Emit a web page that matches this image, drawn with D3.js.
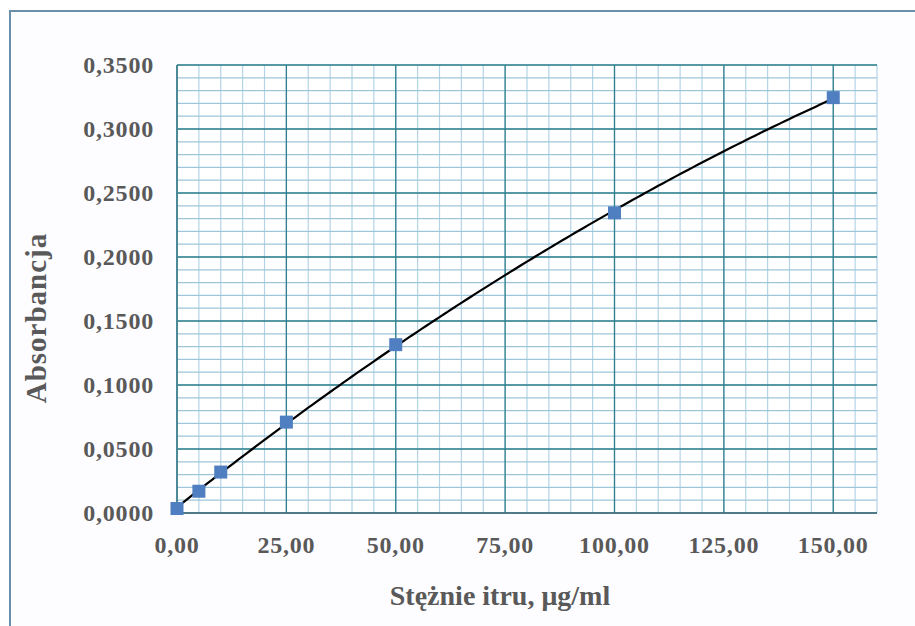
<!DOCTYPE html>
<html>
<head>
<meta charset="utf-8">
<script src="https://cdn.jsdelivr.net/npm/d3@7"></script>
<style>
  body { margin: 0; background: #fff; }
  text { font-family: "Liberation Serif", "Times New Roman", serif; font-weight: bold; fill: #595959; }
</style>
</head>
<body>
<svg id="vimage" width="915" height="626"></svg>
<script>
// stężenie itru (ug/ml) vs absorbancja
var conc = [0, 5, 10, 25, 50, 100, 150];
var absorb = [0.0035, 0.0170, 0.0320, 0.0710, 0.1315, 0.2345, 0.3245];
var xTicks = [0, 25, 50, 75, 100, 125, 150];
var yTicks = [0, 0.05, 0.10, 0.15, 0.20, 0.25, 0.30, 0.35];

var svg = d3.select("#vimage");

// outer frame (only left/top edges visible in the picture)
svg.append("rect")
  .attr("x", 10).attr("y", 11)
  .attr("width", 1000).attr("height", 1000)
  .attr("fill", "#fdfdff")
  .attr("stroke", "#6b8eaa")
  .attr("stroke-width", 2);

var pLeft = 177, pRight = 877, pTop = 65, pBottom = 513;

var x = d3.scaleLinear().domain([0, 160]).range([pLeft, pRight]);
var y = d3.scaleLinear().domain([0, 0.35]).range([pBottom, pTop]);

svg.append("rect")
  .attr("x", pLeft).attr("y", pTop)
  .attr("width", pRight - pLeft).attr("height", pBottom - pTop)
  .attr("fill", "#fff");

// minor grid
var g = svg.append("g");
g.selectAll(".xminor")
  .data(d3.range(5, 161, 5))
  .enter().append("line")
  .attr("x1", function(d){ return x(d); })
  .attr("x2", function(d){ return x(d); })
  .attr("y1", pTop).attr("y2", pBottom)
  .attr("stroke", "#b3d4e6").attr("stroke-width", 1.2);

g.selectAll(".yminor")
  .data(d3.range(1, 36).map(function(i){ return i / 100; }))
  .enter().append("line")
  .attr("y1", function(d){ return y(d); })
  .attr("y2", function(d){ return y(d); })
  .attr("x1", pLeft).attr("x2", pRight)
  .attr("stroke", "#9ec6da").attr("stroke-width", 1.2);

// major grid
g.selectAll(".xmajor")
  .data(xTicks)
  .enter().append("line")
  .attr("x1", function(d){ return x(d); })
  .attr("x2", function(d){ return x(d); })
  .attr("y1", pTop).attr("y2", pBottom)
  .attr("stroke", "#2f7f8e").attr("stroke-width", 1.3);

g.selectAll(".ymajor")
  .data(yTicks)
  .enter().append("line")
  .attr("y1", function(d){ return y(d); })
  .attr("y2", function(d){ return y(d); })
  .attr("x1", pLeft).attr("x2", pRight)
  .attr("stroke", "#2f7f8e").attr("stroke-width", 1.3);

// axes lines
svg.append("line").attr("x1", pLeft).attr("x2", pLeft).attr("y1", pTop).attr("y2", pBottom)
  .attr("stroke", "#3f7f8e").attr("stroke-width", 1.5);
svg.append("line").attr("x1", pLeft).attr("x2", pRight).attr("y1", pBottom).attr("y2", pBottom)
  .attr("stroke", "#4a6e7a").attr("stroke-width", 1.5);

// tick labels
var fmtY = function(d){ return d3.format(".4f")(d).replace(".", ","); };
var fmtX = function(d){ return d3.format(".2f")(d).replace(".", ","); };

svg.selectAll(".ylab")
  .data(yTicks)
  .enter().append("text")
  .attr("x", 154)
  .attr("y", function(d){ return y(d) + 8; })
  .attr("text-anchor", "end")
  .style("font-size", "24px")
  .style("letter-spacing", "0.8px")
  .text(fmtY);

svg.selectAll(".xlab")
  .data(xTicks)
  .enter().append("text")
  .attr("x", function(d){ return x(d); })
  .attr("y", 553)
  .attr("text-anchor", "middle")
  .style("font-size", "24px")
  .style("letter-spacing", "0.8px")
  .text(fmtX);

// axis titles
svg.append("text")
  .attr("x", 500).attr("y", 605)
  .attr("text-anchor", "middle")
  .style("font-size", "28px")
  .text("Stężnie itru, μg/ml");

svg.append("text")
  .attr("transform", "translate(46,318) rotate(-90)")
  .attr("text-anchor", "middle")
  .style("font-size", "29px")
  .style("letter-spacing", "1px")
  .text("Absorbancja");

// quadratic least-squares trend line (as the spreadsheet does)
function polyFit(xs, ys) {
  var n = xs.length, s = [0,0,0,0,0], t = [0,0,0];
  for (var i = 0; i < n; i++) {
    var p = 1;
    for (var k = 0; k < 5; k++) { s[k] += p; if (k < 3) t[k] += p * ys[i]; p *= xs[i]; }
  }
  var A = [[s[0], s[1], s[2], t[0]], [s[1], s[2], s[3], t[1]], [s[2], s[3], s[4], t[2]]];
  for (var c = 0; c < 3; c++) {
    for (var r = c + 1; r < 3; r++) {
      var f = A[r][c] / A[c][c];
      for (var j = c; j < 4; j++) A[r][j] -= f * A[c][j];
    }
  }
  var b = [0, 0, 0];
  for (var r2 = 2; r2 >= 0; r2--) {
    var v = A[r2][3];
    for (var j2 = r2 + 1; j2 < 3; j2++) v -= A[r2][j2] * b[j2];
    b[r2] = v / A[r2][r2];
  }
  return b;
}
var coef = polyFit(conc, absorb);
var trend = d3.range(0, 150.5, 1).map(function(v){
  return [v, coef[0] + coef[1] * v + coef[2] * v * v];
});

svg.append("path")
  .datum(trend)
  .attr("fill", "none")
  .attr("stroke", "#000")
  .attr("stroke-width", 2.2)
  .attr("d", d3.line()
    .x(function(d){ return x(d[0]); })
    .y(function(d){ return y(d[1]); }));

// markers
var pts = conc.map(function(c, i){ return { c: c, a: absorb[i] }; });
svg.selectAll(".pt")
  .data(pts)
  .enter().append("rect")
  .attr("x", function(d){ return x(d.c) - 6.5; })
  .attr("y", function(d){ return y(d.a) - 6.5; })
  .attr("width", 13).attr("height", 13)
  .attr("fill", "#4f7fc0");
</script>
</body>
</html>
